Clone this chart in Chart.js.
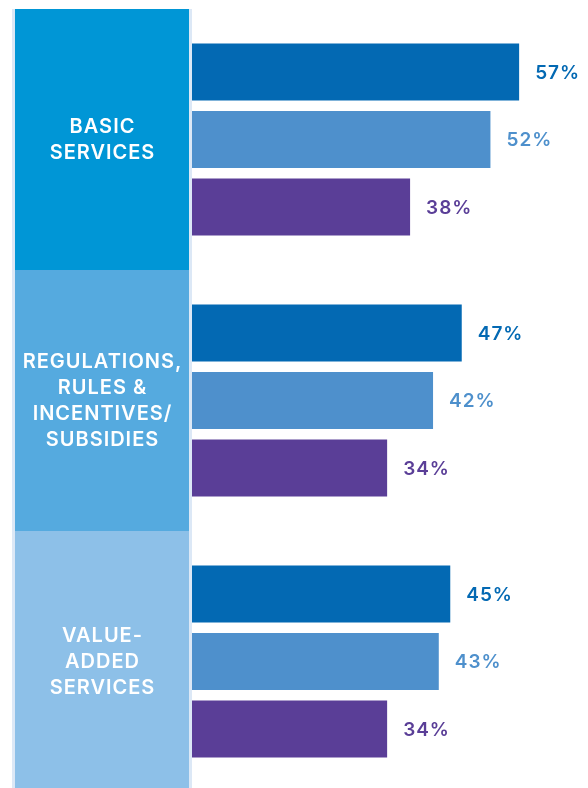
<!DOCTYPE html>
<html>
<head>
<meta charset="utf-8">
<script src="https://cdn.jsdelivr.net/npm/chart.js@4/dist/chart.umd.min.js"></script>
<style>
html,body{margin:0;padding:0;background:#fff;overflow:hidden;}
canvas{display:block;}
</style>
</head>
<body>
<canvas id="c" width="588" height="792"></canvas>
<script>
const categories = [["BASIC","SERVICES"],["REGULATIONS,","RULES &","INCENTIVES/","SUBSIDIES"],["VALUE-","ADDED","SERVICES"]];
const series1 = [57, 47, 45];
const series2 = [52, 42, 43];
const series3 = [38, 34, 34];
const seriesNames = ["Series 1","Series 2","Series 3"];

const barColors = ["#0369B3","#4E90CC","#5A3E97"];
const panelColors = ["#0096D6","#55AADF","#8DC0E8"];
const FONT = "Inter, 'Open Sans', sans-serif";

const panelPlugin = {
  id: 'panels',
  beforeDatasetsDraw(chart) {
    const {ctx, chartArea, scales} = chart;
    const y = scales.y;
    const n = categories.length;
    const step = chartArea.height / n;
    ctx.save();
    ctx.fillStyle = '#dce8f6';
    ctx.fillRect(12, chartArea.top, 3, chartArea.bottom - chartArea.top);
    ctx.fillRect(189, chartArea.top, 3, chartArea.bottom - chartArea.top);
    for (let i = 0; i < n; i++) {
      const c = y.getPixelForValue(i);
      const top = c - step / 2, bot = c + step / 2;
      ctx.fillStyle = panelColors[i];
      ctx.fillRect(15, top, 174, bot - top);
      const lines = categories[i];
      const lh = 26;
      ctx.fillStyle = '#ffffff';
      ctx.font = "600 20px " + FONT;
      ctx.letterSpacing = '1px';
      ctx.textAlign = 'center';
      ctx.textBaseline = 'middle';
      const start = c - (lines.length - 1) * lh / 2;
      lines.forEach((t, k) => ctx.fillText(t, 102.5, start + k * lh));
    }
    ctx.restore();
  }
};

const valueLabelPlugin = {
  id: 'valueLabels',
  afterDatasetsDraw(chart) {
    const {ctx} = chart;
    ctx.save();
    ctx.font = "600 19px " + FONT;
    ctx.letterSpacing = '1px';
    ctx.textAlign = 'left';
    ctx.textBaseline = 'middle';
    chart.data.datasets.forEach((ds, di) => {
      const meta = chart.getDatasetMeta(di);
      meta.data.forEach((bar, i) => {
        ctx.fillStyle = barColors[di];
        ctx.fillText(ds.data[i] + '%', bar.x + 16, bar.y + 1);
      });
    });
    ctx.restore();
  }
};

new Chart(document.getElementById('c'), {
  type: 'bar',
  data: {
    labels: categories.map(l => l.join(' ')),
    datasets: [series1, series2, series3].map((d, i) => ({
      label: seriesNames[i],
      data: d,
      backgroundColor: barColors[i],
      borderWidth: 0,
      categoryPercentage: 0.776,
      barPercentage: 0.845
    }))
  },
  options: {
    indexAxis: 'y',
    responsive: false,
    animation: false,
    layout: {padding: {left: 192, top: 9, right: 0, bottom: 0}},
    plugins: {legend: {display: false}, tooltip: {enabled: false}},
    scales: {
      x: {display: false, min: 0, max: 69, grid: {display: false}},
      y: {display: false, grid: {display: false}}
    }
  },
  plugins: [panelPlugin, valueLabelPlugin]
});
</script>
</body>
</html>
